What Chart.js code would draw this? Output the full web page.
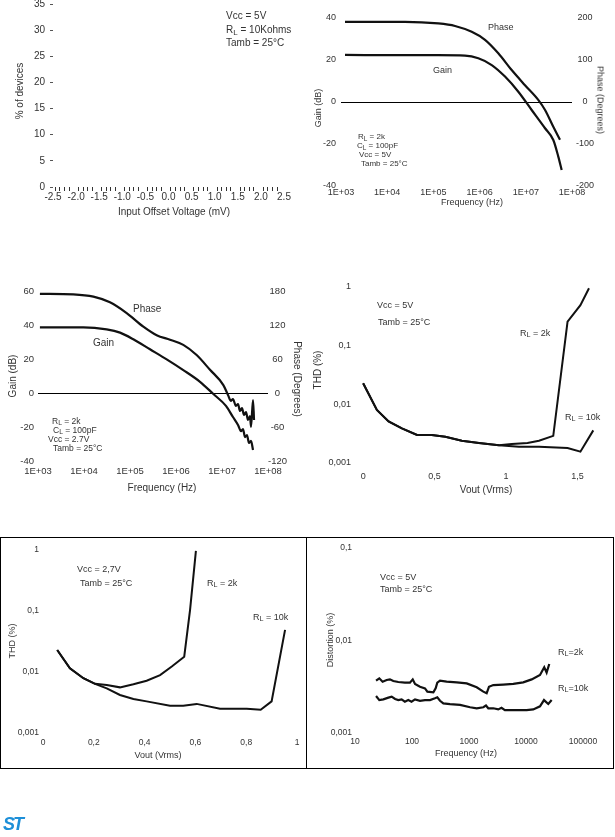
<!DOCTYPE html>
<html>
<head>
<meta charset="utf-8">
<script src="https://cdn.jsdelivr.net/npm/chart.js@4.4.0/dist/chart.umd.min.js"></script>
<style>
html, body { margin: 0; padding: 0; background: #fff; }
#page { position: relative; width: 615px; height: 837px; overflow: hidden; background: #fff; }
canvas { position: absolute; }
.t { position: absolute; white-space: nowrap; line-height: 1; color: #333; font-family: "Liberation Sans Narrow", "Liberation Sans", Arial, sans-serif; font-size: 10px; transform: translateY(-50%); }
.c { transform: translate(-50%, -50%); }
.rl { transform: translate(-50%, -50%) rotate(-90deg); }
.rr { transform: translate(-50%, -50%) rotate(90deg); }
.a { font-family: "Liberation Sans", Arial, sans-serif; }
.t sub { font-size: 0.8em; vertical-align: -0.25em; line-height: 0; }
.frame { position: absolute; border: 1px solid #000; }
.rule { position: absolute; background: #000; }
.logo { position: absolute; left: 3px; top: 814px; font: italic bold 18px "Liberation Sans", Arial, sans-serif; color: #1d8fd8; letter-spacing: -2px; }
</style>
</head>
<body>
<div id="page">

<div class="frame" style="left:0px;top:537px;width:612px;height:230px"></div>
<div class="rule" style="left:306px;top:537px;width:1px;height:231px"></div>

<!-- panel 1 texts -->
<div class="t" style="left:226px;top:16px">Vcc = 5V</div>
<div class="t" style="left:226px;top:30px">R<sub>L</sub> = 10Kohms</div>
<div class="t" style="left:226px;top:43px">Tamb = 25°C</div>
<div class="t c" style="left:174px;top:212px">Input Offset Voltage (mV)</div>
<div class="t rl" style="left:20px;top:91px">% of devices</div>

<!-- panel 2 texts -->
<div class="t" style="left:488px;top:27px;font-size:9px">Phase</div>
<div class="t" style="left:433px;top:70px;font-size:9px">Gain</div>
<div class="t" style="left:358px;top:137px;font-size:8px">R<sub>L</sub> = 2k</div>
<div class="t" style="left:357px;top:146px;font-size:8px">C<sub>L</sub> = 100pF</div>
<div class="t" style="left:359px;top:155px;font-size:8px">Vcc = 5V</div>
<div class="t" style="left:361px;top:164px;font-size:8px">Tamb = 25°C</div>
<div class="t c" style="left:472px;top:202px;font-size:9px">Frequency (Hz)</div>
<div class="t rl" style="left:318px;top:108px;font-size:9px">Gain (dB)</div>
<div class="t rr" style="left:600px;top:100px;font-size:9px">Phase (Degrees)</div>

<!-- panel 3 texts -->
<div class="t a" style="left:133px;top:309px">Phase</div>
<div class="t a" style="left:93px;top:343px">Gain</div>
<div class="t a" style="left:52px;top:421px;font-size:8.5px">R<sub>L</sub> = 2k</div>
<div class="t a" style="left:53px;top:430px;font-size:8.5px">C<sub>L</sub> = 100pF</div>
<div class="t a" style="left:48px;top:439px;font-size:8.5px">Vcc = 2.7V</div>
<div class="t a" style="left:53px;top:448px;font-size:8.5px">Tamb = 25°C</div>
<div class="t c" style="left:162px;top:488px">Frequency (Hz)</div>
<div class="t rl" style="left:13px;top:376px">Gain (dB)</div>
<div class="t rr" style="left:297px;top:379px">Phase (Degrees)</div>

<!-- panel 4 texts -->
<div class="t" style="left:377px;top:305px;font-size:9px">Vcc = 5V</div>
<div class="t" style="left:378px;top:322px;font-size:9px">Tamb = 25°C</div>
<div class="t" style="left:520px;top:333px;font-size:9px">R<sub>L</sub> = 2k</div>
<div class="t" style="left:565px;top:417px;font-size:9px">R<sub>L</sub> = 10k</div>
<div class="t c" style="left:486px;top:490px">Vout (Vrms)</div>
<div class="t rl" style="left:318px;top:370px">THD (%)</div>

<!-- panel 5 texts -->
<div class="t" style="left:77px;top:569px;font-size:9px">Vcc = 2,7V</div>
<div class="t" style="left:80px;top:583px;font-size:9px">Tamb = 25°C</div>
<div class="t" style="left:207px;top:583px;font-size:9px">R<sub>L</sub> = 2k</div>
<div class="t" style="left:253px;top:617px;font-size:9px">R<sub>L</sub> = 10k</div>
<div class="t c" style="left:158px;top:755px;font-size:9px">Vout (Vrms)</div>
<div class="t rl" style="left:12px;top:641px;font-size:9px">THD (%)</div>

<!-- panel 6 texts -->
<div class="t" style="left:380px;top:577px;font-size:9px">Vcc = 5V</div>
<div class="t" style="left:380px;top:589px;font-size:9px">Tamb = 25°C</div>
<div class="t" style="left:558px;top:652px;font-size:9px">R<sub>L</sub>=2k</div>
<div class="t" style="left:558px;top:688px;font-size:9px">R<sub>L</sub>=10k</div>
<div class="t c" style="left:466px;top:753px;font-size:9px">Frequency (Hz)</div>
<div class="t rl" style="left:330px;top:640px;font-size:9px">Distortion (%)</div>

<div class="logo">ST</div>
</div>

<script>
// ---------- data ----------

// input offset voltage histogram: the scan shows only the axes, no bars
let offsetBins = [];
for (let i = -25; i <= 25; i++) offsetBins.push(i / 10);
const offsetPct = [];
const offsetLabels = ['-2.5', '-2.0', '-1.5', '-1.0', '-0.5', '0.0', '0.5', '1.0', '1.5', '2.0', '2.5'];

// open loop gain / phase, Vcc = 5V
const bodeDecades = [1e3, 1e4, 1e5, 1e6, 1e7, 1e8];
const bodeFreqLabels = ['1E+03', '1E+04', '1E+05', '1E+06', '1E+07', '1E+08'];
const bode5PhaseFreq = [1.22e3, 2.43e4, 1.28e5, 2.94e5, 6.75e5, 1.31e6, 2.54e6, 4.95e6, 9.6e6, 1.86e7, 2.61e7, 3.94e7, 5.5e7];
const bode5Phase = [191, 191, 187, 181, 167, 148, 116, 76, 40, 5, -19, -59, -90];
const bode5GainFreq = [1.22e3, 2.43e4, 1.28e5, 4.83e5, 9.38e5, 1.83e6, 3.55e6, 6.89e6, 1.34e7, 2.61e7, 3.94e7, 5.05e7, 5.98e7];
const bode5Gain = [22.4, 22.3, 22.3, 22.1, 20.8, 17.6, 12.1, 4.9, -3.8, -12.5, -18.1, -26, -32.4];

// open loop gain / phase, Vcc = 2.7V
const bode27PhaseFreq = [1.10e3, 5.86e3, 1.60e4, 3.67e4, 8.47e4, 1.95e5, 3.80e5, 7.41e5, 1.44e6, 2.81e6, 5.48e6, 1.07e7,
  1.35e7, 1.57e7, 1.73e7, 2.01e7, 2.23e7, 2.46e7, 2.72e7, 3.01e7, 3.33e7, 3.67e7, 4.06e7, 4.27e7, 4.72e7, 4.97e7];
const bode27Phase = [175, 174, 170, 160, 141, 117, 102, 94, 85, 67, 41, 14,
  -3.5, -14, -10.6, -22.9, -19.4, -31.8, -26.5, -38.8, -33.5, -47.6, -40.6, -60, -12.4, -47.6];
const bode27GainFreq = [1.10e3, 9.68e3, 3.11e4, 6.07e4, 1.18e5, 2.72e5, 6.27e5, 1.44e6, 3.33e6, 6.49e6,
  1.22e7, 1.73e7, 2.23e7, 2.59e7, 2.86e7, 3.16e7, 3.49e7, 3.86e7, 4.27e7, 4.72e7];
const bode27Gain = [38.6, 38.6, 37.4, 35.5, 31.6, 25.7, 19.8, 13.5, 6.6, -0.6,
  -7.6, -14.1, -18.8, -22.4, -21.2, -25.9, -24.7, -29.4, -28.2, -33.5];

// THD vs output voltage, Vcc = 5V
const thdDecades = [0.001, 0.01, 0.1, 1];
const thdDecadeLabels = ['0,001', '0,01', '0,1', '1'];
const vout5Ticks = [0, 0.5, 1, 1.5];
const vout5Labels = ['0', '0,5', '1', '1,5'];
const vout5Rl2k = [0, 0.096, 0.178, 0.271, 0.377, 0.48, 0.575, 0.69, 0.81, 0.95, 1.04, 1.15, 1.23, 1.33, 1.43, 1.52, 1.58];
const thd5Rl2k = [0.0229, 0.008, 0.0051, 0.0039, 0.003, 0.003, 0.0028, 0.0024, 0.0022, 0.002, 0.0021, 0.0022, 0.0024, 0.0029, 0.256, 0.49, 0.95];
const vout5Rl10k = [0, 0.096, 0.178, 0.271, 0.377, 0.48, 0.575, 0.69, 0.81, 0.95, 1.09, 1.23, 1.43, 1.52, 1.61];
const thd5Rl10k = [0.0229, 0.008, 0.0051, 0.0039, 0.003, 0.003, 0.0028, 0.0024, 0.0022, 0.002, 0.0019, 0.0019, 0.0018, 0.00156, 0.0036];

// THD vs output voltage, Vcc = 2.7V
const vout27Ticks = [0, 0.2, 0.4, 0.6, 0.8, 1];
const vout27Labels = ['0', '0,2', '0,4', '0,6', '0,8', '1'];
const vout27Rl2k = [0.056, 0.106, 0.159, 0.205, 0.251, 0.303, 0.356, 0.408, 0.461, 0.507, 0.556, 0.579, 0.602];
const thd27Rl2k = [0.0229, 0.0115, 0.0079, 0.0064, 0.0061, 0.0056, 0.0063, 0.0072, 0.0089, 0.0123, 0.0178, 0.104, 0.97];
const vout27Rl10k = [0.056, 0.106, 0.159, 0.205, 0.251, 0.303, 0.356, 0.408, 0.5, 0.552, 0.605, 0.697, 0.802, 0.857, 0.9, 0.953];
const thd27Rl10k = [0.0229, 0.0115, 0.0079, 0.0064, 0.0054, 0.0042, 0.0036, 0.0033, 0.0028, 0.0028, 0.003, 0.0025, 0.0025, 0.0024, 0.0033, 0.049];

// distortion vs frequency, Vcc = 5V
const distDecades = [10, 100, 1000, 10000, 100000];
const distFreqLabels = ['10', '100', '1000', '10000', '100000'];
const distYDecades = [0.001, 0.01, 0.1];
const distYLabels = ['0,001', '0,01', '0,1'];
const distFreqRl2k = [23.4, 26.7, 30.5, 36, 41, 47, 57.5, 75, 92, 103, 113, 138, 169, 186, 237, 260, 278, 310, 405, 609,
  912, 1365, 1783, 2040, 2240, 2667, 3990, 5980, 8940, 12580, 17600, 20900, 23000, 25600];
const distRl2k = [0.00368, 0.0039, 0.00359, 0.00374, 0.0038, 0.00365, 0.00356, 0.0035, 0.0035, 0.0038, 0.00339, 0.00316,
  0.00304, 0.0028, 0.00275, 0.00304, 0.0035, 0.00368, 0.00359, 0.00353, 0.00344, 0.00312, 0.0028, 0.00269, 0.00316,
  0.0033, 0.00334, 0.00339, 0.00353, 0.0038, 0.00424, 0.00513, 0.00449, 0.00557];
const distFreqRl10k = [23.4, 26.7, 31.4, 38.5, 44, 50.5, 57.5, 65.8, 75, 86, 98, 113, 138, 169, 207, 253, 278, 310, 355,
  464, 697, 1045, 1365, 1783, 1985, 2180, 2667, 3260, 3720, 4260, 5980, 10250, 13400, 17600, 20700, 24600, 28200];
const distRl10k = [0.00251, 0.00227, 0.00231, 0.00241, 0.00247, 0.00233, 0.00227, 0.00231, 0.00218, 0.00227, 0.00218,
  0.00231, 0.00223, 0.00227, 0.00227, 0.00237, 0.00243, 0.00223, 0.00209, 0.00205, 0.00201, 0.0019, 0.00185, 0.0019,
  0.00198, 0.00185, 0.00185, 0.0018, 0.00187, 0.00177, 0.00177, 0.00177, 0.0018, 0.00194, 0.00227, 0.00206, 0.00227];

// ---------- helpers ----------
Chart.defaults.font.family = '"Liberation Sans", Arial, sans-serif';
Chart.defaults.color = '#333';

const M = 40; // room around each plot area for tick labels (axis boxes are forced to this size)

// canvas whose plot area lands exactly on the page box l,t,r,b
function makeCanvas(l, t, r, b) {
  let page = document.getElementById('page');
  let c = document.createElement('canvas');
  c.width = r - l + 2 * M;
  c.height = b - t + 2 * M;
  c.style.left = (l - M) + 'px';
  c.style.top = (t - M) + 'px';
  page.insertBefore(c, page.firstChild);
  return c.getContext('2d');
}

const fixSize = a => { if (a.isHorizontal()) a.height = M; else a.width = M; };
const useTicks = vals => a => { a.ticks = vals.map(v => ({ value: v })); };
const zeroOnly = ctx => (ctx.tick && ctx.tick.value === 0) ? '#000' : 'rgba(0,0,0,0)';
const minorOnly = ctx => (ctx.tick && Math.round(ctx.tick.value * 10) % 5 !== 0) ? '#333' : 'rgba(0,0,0,0)';
const hidden = { display: false, drawTicks: false };

function curve(xs, ys, axis, width, smooth) {
  return {
    data: xs.map((x, i) => ({ x: x, y: ys[i] })),
    yAxisID: axis,
    borderColor: '#111',
    borderWidth: width,
    pointRadius: 0,
    fill: false,
    tension: 0,
    cubicInterpolationMode: smooth ? 'monotone' : 'default'
  };
}

// x axis at the bottom, y at the left, optional y2 at the right
function options(scales) {
  return {
    responsive: false,
    animation: false,
    devicePixelRatio: 1,
    layout: { padding: { top: M, left: 0, bottom: 0, right: scales.y2 ? 0 : M } },
    plugins: { legend: { display: false }, tooltip: { enabled: false } },
    scales: scales
  };
}

// ---------- panel 1: offset voltage histogram ----------
new Chart(makeCanvas(53, 4, 284, 187), {
  type: 'bar',
  data: { datasets: [{ data: offsetPct.map((p, i) => ({ x: offsetBins[i], y: p })), backgroundColor: '#777' }] },
  options: options({
    x: {
      type: 'linear', min: -2.5, max: 2.5, offset: false, afterFit: fixSize,
      afterBuildTicks: useTicks(offsetBins),
      ticks: {
        autoSkip: false, maxRotation: 0, padding: 0, font: { size: 10 },
        callback: v => { const k = Math.round(v * 10); return k % 5 === 0 ? offsetLabels[(k + 25) / 5] : ''; }
      },
      grid: { drawOnChartArea: false, tickLength: 4, color: minorOnly, tickColor: minorOnly },
      border: { display: false }
    },
    y: {
      min: 0, max: 35, afterFit: fixSize,
      ticks: { stepSize: 5, padding: 5, font: { size: 10 } },
      grid: { drawOnChartArea: false, tickLength: 3, tickColor: '#555' },
      border: { display: false }
    }
  })
});

// ---------- panel 2: gain & phase, Vcc = 5V ----------
new Chart(makeCanvas(341, 18, 572, 186), {
  type: 'line',
  data: {
    datasets: [
      curve(bode5PhaseFreq, bode5Phase, 'y2', 2.2, true),
      curve(bode5GainFreq, bode5Gain, 'y', 2.2, true)
    ]
  },
  options: options({
    x: {
      type: 'logarithmic', min: 1e3, max: 1e8, afterFit: fixSize, afterBuildTicks: useTicks(bodeDecades),
      ticks: { autoSkip: false, maxRotation: 0, padding: 1, font: { size: 9 }, callback: (v, i) => bodeFreqLabels[i] },
      grid: hidden, border: { display: false }
    },
    y: {
      min: -40, max: 40, afterFit: fixSize,
      ticks: { stepSize: 20, padding: 5, font: { size: 9 } },
      grid: { drawTicks: false, color: zeroOnly, lineWidth: 1 }, border: { display: false }
    },
    y2: {
      position: 'right', min: -200, max: 200, afterFit: fixSize,
      ticks: { stepSize: 100, padding: 4, crossAlign: 'center', font: { size: 9 } },
      grid: hidden, border: { display: false }
    }
  })
});

// ---------- panel 3: gain & phase, Vcc = 2.7V ----------
new Chart(makeCanvas(38, 291, 268, 461), {
  type: 'line',
  data: {
    datasets: [
      curve(bode27PhaseFreq, bode27Phase, 'y2', 2.2, true),
      curve(bode27GainFreq, bode27Gain, 'y', 2.2, true)
    ]
  },
  options: options({
    x: {
      type: 'logarithmic', min: 1e3, max: 1e8, afterFit: fixSize, afterBuildTicks: useTicks(bodeDecades),
      ticks: { autoSkip: false, maxRotation: 0, padding: 5, font: { size: 9.5 }, callback: (v, i) => bodeFreqLabels[i] },
      grid: hidden, border: { display: false }
    },
    y: {
      min: -40, max: 60, afterFit: fixSize,
      ticks: { stepSize: 20, padding: 4, font: { size: 9.5 } },
      grid: { drawTicks: false, color: zeroOnly, lineWidth: 1 }, border: { display: false }
    },
    y2: {
      position: 'right', min: -120, max: 180, afterFit: fixSize,
      ticks: { stepSize: 60, padding: 0, crossAlign: 'center', font: { size: 9.5 } },
      grid: hidden, border: { display: false }
    }
  })
});

// ---------- panel 4: THD vs Vout, Vcc = 5V ----------
new Chart(makeCanvas(356, 287, 599, 463), {
  type: 'line',
  data: {
    datasets: [
      curve(vout5Rl2k, thd5Rl2k, 'y', 2, false),
      curve(vout5Rl10k, thd5Rl10k, 'y', 2, false)
    ]
  },
  options: options({
    x: {
      type: 'linear', min: -0.05, max: 1.65, afterFit: fixSize, afterBuildTicks: useTicks(vout5Ticks),
      ticks: { autoSkip: false, maxRotation: 0, padding: 8, font: { size: 9 }, callback: (v, i) => vout5Labels[i] },
      grid: hidden, border: { display: false }
    },
    y: {
      type: 'logarithmic', min: 0.001, max: 1, afterFit: fixSize, afterBuildTicks: useTicks(thdDecades),
      ticks: { padding: 5, font: { size: 9 }, callback: (v, i) => thdDecadeLabels[i] },
      grid: hidden, border: { display: false }
    }
  })
});

// ---------- panel 5: THD vs Vout, Vcc = 2.7V ----------
new Chart(makeCanvas(43, 550, 297, 733), {
  type: 'line',
  data: {
    datasets: [
      curve(vout27Rl2k, thd27Rl2k, 'y', 2, false),
      curve(vout27Rl10k, thd27Rl10k, 'y', 2, false)
    ]
  },
  options: options({
    x: {
      type: 'linear', min: 0, max: 1, afterFit: fixSize, afterBuildTicks: useTicks(vout27Ticks),
      ticks: { autoSkip: false, maxRotation: 0, padding: 5, font: { size: 8.5 }, callback: (v, i) => vout27Labels[i] },
      grid: hidden, border: { display: false }
    },
    y: {
      type: 'logarithmic', min: 0.001, max: 1, afterFit: fixSize, afterBuildTicks: useTicks(thdDecades),
      ticks: { padding: 4, font: { size: 8.5 }, callback: (v, i) => thdDecadeLabels[i] },
      grid: hidden, border: { display: false }
    }
  })
});

// ---------- panel 6: distortion vs frequency ----------
new Chart(makeCanvas(355, 548, 583, 733), {
  type: 'line',
  data: {
    datasets: [
      curve(distFreqRl2k, distRl2k, 'y', 2.2, false),
      curve(distFreqRl10k, distRl10k, 'y', 2.2, false)
    ]
  },
  options: options({
    x: {
      type: 'logarithmic', min: 10, max: 100000, afterFit: fixSize, afterBuildTicks: useTicks(distDecades),
      ticks: { autoSkip: false, maxRotation: 0, padding: 4, font: { size: 8.5 }, callback: (v, i) => distFreqLabels[i] },
      grid: hidden, border: { display: false }
    },
    y: {
      type: 'logarithmic', min: 0.001, max: 0.1, afterFit: fixSize, afterBuildTicks: useTicks(distYDecades),
      ticks: { padding: 3, font: { size: 8.5 }, callback: (v, i) => distYLabels[i] },
      grid: hidden, border: { display: false }
    }
  })
});
</script>
</body>
</html>
